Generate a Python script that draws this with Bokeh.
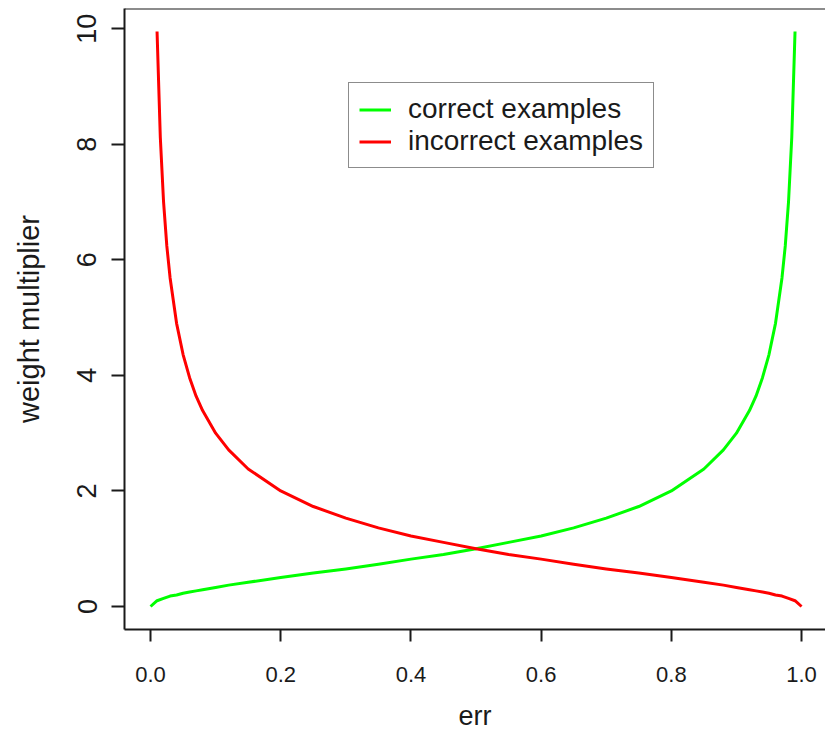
from bokeh.plotting import figure
from bokeh.models import Range1d, Legend, LegendItem, FixedTicker, Span
from bokeh.embed import file_html
from bokeh.resources import INLINE

# ---- data ----
err_correct = [0.00, 0.01, 0.02, 0.03, 0.04, 0.05, 0.06, 0.07, 0.08, 0.10, 0.12, 0.15,
               0.20, 0.25, 0.30, 0.35, 0.40, 0.45, 0.50, 0.55, 0.60, 0.65, 0.70, 0.75, 0.80,
               0.85, 0.88, 0.90, 0.92, 0.93, 0.94, 0.95, 0.96, 0.97, 0.975, 0.98, 0.985, 0.99]
w_correct = [0.00, 0.10, 0.14, 0.18, 0.20, 0.23, 0.25, 0.27, 0.29, 0.33, 0.37, 0.42,
             0.50, 0.58, 0.65, 0.73, 0.82, 0.90, 1.00, 1.11, 1.22, 1.36, 1.53, 1.73, 2.00,
             2.38, 2.71, 3.00, 3.39, 3.64, 3.96, 4.36, 4.90, 5.69, 6.24, 7.00, 8.12, 9.95]

err_incorrect = [0.01, 0.015, 0.02, 0.025, 0.03, 0.04, 0.05, 0.06, 0.07, 0.08, 0.10, 0.12, 0.15,
                 0.20, 0.25, 0.30, 0.35, 0.40, 0.45, 0.50, 0.55, 0.60, 0.65, 0.70, 0.75, 0.80,
                 0.85, 0.88, 0.90, 0.92, 0.93, 0.94, 0.95, 0.96, 0.97, 0.98, 0.99, 1.00]
w_incorrect = [9.95, 8.12, 7.00, 6.24, 5.69, 4.90, 4.36, 3.96, 3.64, 3.39, 3.00, 2.71, 2.38,
               2.00, 1.73, 1.53, 1.36, 1.22, 1.11, 1.00, 0.90, 0.82, 0.73, 0.65, 0.58, 0.50,
               0.42, 0.37, 0.33, 0.29, 0.27, 0.25, 0.23, 0.20, 0.18, 0.14, 0.10, 0.00]

x_ticks = [0.0, 0.2, 0.4, 0.6, 0.8, 1.0]
x_tick_labels = ["0.0", "0.2", "0.4", "0.6", "0.8", "1.0"]
y_ticks = [0, 2, 4, 6, 8, 10]
series_names = ["correct examples", "incorrect examples"]

FONT = "Liberation Sans"
INK = "#1a1a1a"

y_lo, y_hi = -0.398, 10.348
p = figure(width=825, height=737, output_backend="svg", toolbar_location=None,
           x_range=Range1d(-0.04, 1.0368), y_range=Range1d(y_lo, y_hi),
           min_border_left=124, min_border_right=0, min_border_top=8, min_border_bottom=108,
           background_fill_color="white", border_fill_color="white")

p.outline_line_color = None
p.xgrid.visible = False
p.ygrid.visible = False

r_c = p.line(err_correct, w_correct, line_color="#00ff00", line_width=3, line_join="round")
r_i = p.line(err_incorrect, w_incorrect, line_color="#ff0000", line_width=3, line_join="round")

# top border of the box
p.add_layout(Span(location=y_hi, dimension="width", line_color=INK, line_width=2))

for ax in (p.xaxis[0], p.yaxis[0]):
    ax.axis_line_color = INK
    ax.axis_line_width = 2
    ax.major_tick_line_color = INK
    ax.major_tick_line_width = 2
    ax.major_tick_in = 0
    ax.minor_tick_line_color = None
    ax.major_label_text_font = FONT
    ax.major_label_text_color = INK
    ax.axis_label_text_font = FONT
    ax.axis_label_text_font_style = "normal"
    ax.axis_label_text_color = INK

xa = p.xaxis[0]
xa.ticker = FixedTicker(ticks=x_ticks)
xa.major_label_overrides = {t: s for t, s in zip(x_ticks, x_tick_labels)}
xa.major_tick_out = 12
xa.major_label_standoff = 25
xa.major_label_text_font_size = "22px"
xa.axis_label = "err"
xa.axis_label_text_font_size = "27px"
xa.axis_label_standoff = 16

ya = p.yaxis[0]
ya.ticker = FixedTicker(ticks=y_ticks)
ya.major_tick_out = 13
ya.major_label_standoff = 15
ya.major_label_orientation = "vertical"
ya.major_label_text_font_size = "27px"
ya.axis_label = "weight multiplier"
ya.axis_label_text_font_size = "29px"
ya.axis_label_standoff = 30

legend = Legend(items=[LegendItem(label=series_names[0], renderers=[r_c]),
                       LegendItem(label=series_names[1], renderers=[r_i])],
                location=(224, 461), orientation="vertical",
                label_text_font=FONT, label_text_font_size="28px", label_text_color=INK,
                glyph_width=32, glyph_height=27, label_height=27, label_standoff=17,
                spacing=0, padding=10, margin=0,
                border_line_color=INK, border_line_width=1,
                background_fill_color="white", background_fill_alpha=1.0)
p.add_layout(legend, "center")

open("out.html", "w").write(file_html(p, INLINE))
